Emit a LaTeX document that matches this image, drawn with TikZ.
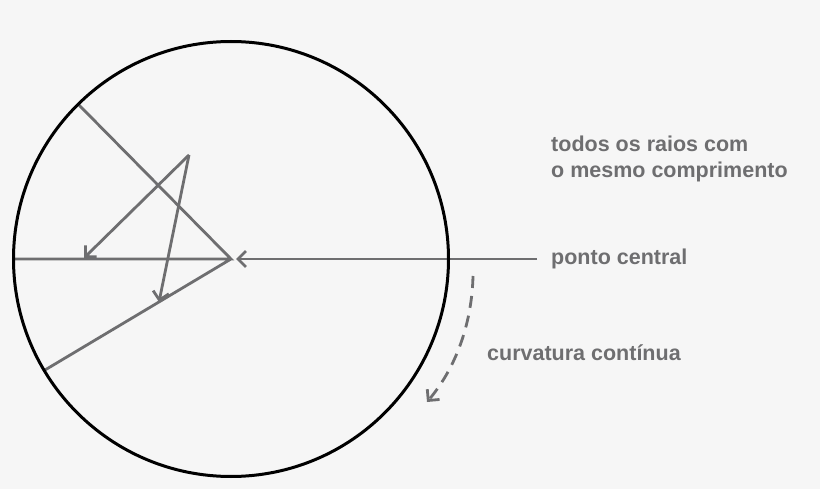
\documentclass[tikz,border=0pt]{standalone}
\usepackage{fontspec}
\usetikzlibrary{arrows.meta}
\setmainfont{Liberation Sans}
\begin{document}
\begin{tikzpicture}[x=1pt,y=-1pt,
  gl/.style={draw=linegray,line width=2.8pt},
  tip/.style={-{Straight Barb[length=8pt,width=16pt]}},
  lbl/.style={text=txtgray,font=\fontsize{21.5}{26}\selectfont\bfseries,anchor=west,align=left,inner sep=0pt}]
\definecolor{linegray}{RGB}{110,110,112}
\definecolor{txtgray}{RGB}{110,110,112}
\definecolor{bg}{RGB}{246,246,246}
\fill[bg] (0,0) rectangle (820,489);
\useasboundingbox (0,0) rectangle (820,489);
\coordinate (c) at (231,259);
\coordinate (p1) at (78,104);
\coordinate (p2) at (12,259);
\coordinate (p3) at (45,370);
\coordinate (apex) at (189,155);
\coordinate (t1) at (84,258);
\coordinate (t2) at (159,302);
\coordinate (rs) at (537,259);
\coordinate (rt) at (236,259);
\coordinate (ds) at (473,276);
\coordinate (de) at (427,402);
\draw[gl] (p1) -- (c) -- (p2) (c) -- (p3);
\draw[gl,tip] (apex) -- (t1);
\draw[gl,tip] (apex) -- (t2);
\draw[gl,tip] (rs) -- (rt);
\draw[gl,tip,dashed,dash pattern=on 12pt off 8pt] (ds) .. controls (472,320) and (458,365) .. (de);
\draw[black,line width=3pt] (c) circle (217.5);
\node[lbl] (t_raios) at (551,159) {todos os raios com\\o mesmo comprimento};
\node[lbl] (t_ponto) at (551,259) {ponto central};
\node[lbl] (t_curv) at (487,353) {curvatura contínua};
\end{tikzpicture}
\end{document}
